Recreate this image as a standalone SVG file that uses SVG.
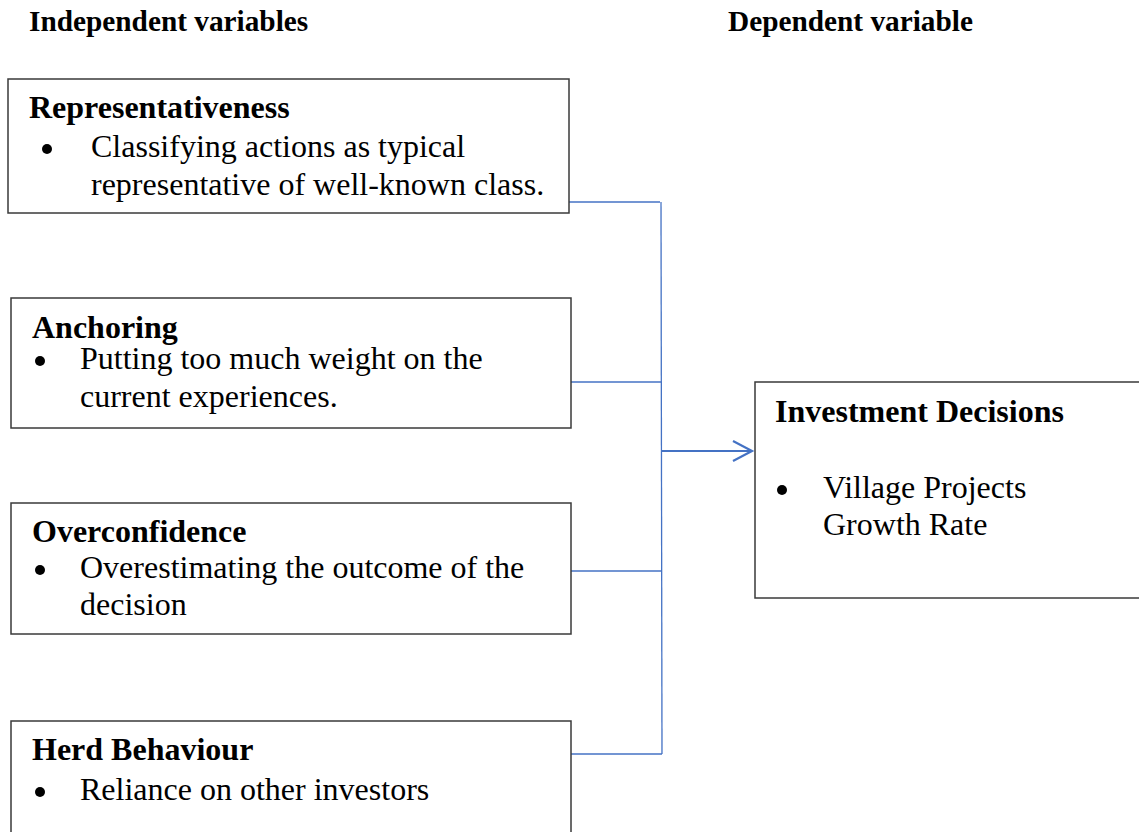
<svg xmlns="http://www.w3.org/2000/svg" width="1139" height="832" viewBox="0 0 1139 832">
<style>
.box{fill:#fff;stroke:#3a3a3a;stroke-width:1.5}
.hd{font-family:"Liberation Serif","Times New Roman",serif;font-weight:bold;font-size:29.3px;fill:#000}
.tt{font-family:"Liberation Serif","Times New Roman",serif;font-weight:bold;font-size:32px;fill:#000}
.bd{font-family:"Liberation Serif","Times New Roman",serif;font-size:32px;fill:#000}
.bl{fill:#000}
.cn{stroke:#4472C4;stroke-width:1.3;fill:none}
.ar{stroke:#4472C4;stroke-width:2.2;fill:none}
</style>
<rect width="1139" height="832" fill="#fff"/>
<g id="headings">
<text class="hd" x="29" y="31">Independent variables</text>
<text class="hd" x="728" y="31">Dependent variable</text>
</g>
<g id="connectors">
<line class="cn" x1="569" y1="202" x2="660" y2="202"/>
<line class="cn" x1="571" y1="382" x2="661" y2="382"/>
<line class="cn" x1="571" y1="571" x2="661" y2="571"/>
<line class="cn" x1="571" y1="754" x2="662" y2="754"/>
<line class="cn" x1="661" y1="202" x2="662" y2="754"/>
<line class="ar" x1="661" y1="451" x2="752" y2="451"/>
<polyline class="ar" points="733,441 752,451 733,461"/>
</g>
<g id="representativeness">
<rect class="box" x="8" y="79" width="561" height="134"/>
<text class="tt" x="29" y="118">Representativeness</text>
<circle class="bl" cx="47" cy="149" r="5"/>
<text class="bd" x="91" y="157">Classifying actions as typical</text>
<text class="bd" x="91" y="195">representative of well-known class.</text>
</g>
<g id="anchoring">
<rect class="box" x="11" y="298" width="560" height="130"/>
<text class="tt" x="32" y="338">Anchoring</text>
<circle class="bl" cx="40" cy="361" r="5"/>
<text class="bd" x="80" y="369">Putting too much weight on the</text>
<text class="bd" x="80" y="407">current experiences.</text>
</g>
<g id="overconfidence">
<rect class="box" x="11" y="503" width="560" height="131"/>
<text class="tt" x="32" y="542">Overconfidence</text>
<circle class="bl" cx="40" cy="570" r="5"/>
<text class="bd" x="80" y="578">Overestimating the outcome of the</text>
<text class="bd" x="80" y="615">decision</text>
</g>
<g id="herd">
<rect class="box" x="11" y="721" width="560" height="130"/>
<text class="tt" x="32" y="760">Herd Behaviour</text>
<circle class="bl" cx="40" cy="792" r="5"/>
<text class="bd" x="80" y="800">Reliance on other investors</text>
</g>
<g id="investment">
<rect class="box" x="755" y="382" width="400" height="216"/>
<text class="tt" x="775" y="422">Investment Decisions</text>
<circle class="bl" cx="782" cy="490" r="5"/>
<text class="bd" x="823" y="498">Village Projects</text>
<text class="bd" x="823" y="535">Growth Rate</text>
</g>
</svg>
